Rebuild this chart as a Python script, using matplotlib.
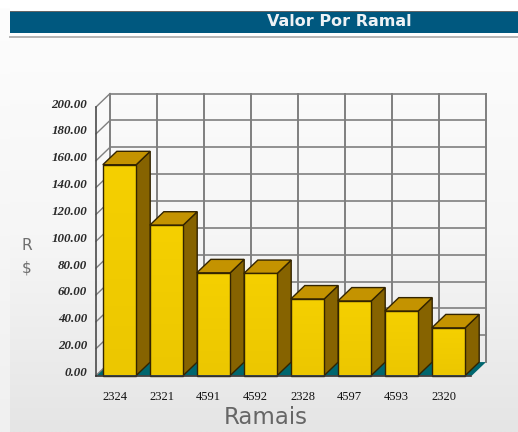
import numpy as np
import matplotlib
matplotlib.use("Agg")
import matplotlib.pyplot as plt
from matplotlib.colors import LinearSegmentedColormap
from matplotlib.patches import Polygon
from matplotlib.transforms import ScaledTranslation

categories = ["2324", "2321", "4591", "4592", "2328", "4597", "4593", "2320"]
values = [157, 112, 76.5, 76, 57, 55.5, 48, 35.5]
y_ticks = list(range(0, 201, 20))
y_tick_labels = [f"{v:.2f}" for v in y_ticks]
title = "Valor Por Ramal"
x_label = "Ramais"

W, H = 518, 432
fig = plt.figure(figsize=(W / 100, H / 100), dpi=100, facecolor="white")

# page background
bg = fig.add_axes([0, 0, 1, 1], zorder=0)
bg.axis("off")
page = LinearSegmentedColormap.from_list("page", ["#fcfcfc", "#f6f6f6", "#e5e5e5"])
bg.imshow(np.linspace(0, 1, 256).reshape(-1, 1), cmap=page, aspect="auto",
          extent=(10, W, H, 38), zorder=1)
edge = LinearSegmentedColormap.from_list("edge", ["#fdfdfd", "#f0f0f0"])
bg.imshow(np.linspace(0, 1, 256).reshape(-1, 1), cmap=edge, aspect="auto",
          extent=(0, 10, H, 8), zorder=1)
bg.set_xlim(0, W)
bg.set_ylim(H, 0)
bg.fill_between([10, W], 10.5, 32.5, color="#00587f", lw=0, zorder=2)
bg.plot([10, W], [10.5, 10.5], color="#666666", lw=0.7, zorder=3)
bg.plot([10, W], [37, 37], color="#b4b4b4", lw=1.4, zorder=3)
bg.text(339.5, 22, title, color="#eef2f5", fontsize=11.5, fontweight="bold",
        family="DejaVu Sans", ha="center", va="center", zorder=4)
bg.text(266, 417, x_label, color="#666666", fontsize=16.5, family="DejaVu Sans",
        ha="center", va="center", zorder=4)
bg.text(27, 246, "R", color="#6e6e6e", fontsize=11, family="DejaVu Sans",
        ha="center", va="center", zorder=4)
bg.text(27, 268, "$", color="#6e6e6e", fontsize=11, family="DejaVu Sans",
        ha="center", va="center", zorder=4)

# chart front plane
x0, x1, ytop, ybot = 96, 472, 107, 375.5
ax = fig.add_axes([x0 / W, 1 - ybot / H, (x1 - x0) / W, (ybot - ytop) / H], zorder=1)
ax.patch.set_alpha(0)
for s in ax.spines.values():
    s.set_visible(False)
n = len(categories)
dx, dy = 0.298, 10
bw = 0.71
grid = "#7f7f7f"

# floor
ax.add_patch(Polygon([(-0.5, 0), (n - 0.5, 0), (n - 0.5 + dx, dy), (-0.5 + dx, dy)],
                     facecolor="#00666e", edgecolor="none", clip_on=False, zorder=1))
# back wall grid and left wall
for v in y_ticks:
    if v > 0:
        ax.plot([-0.5 + dx, n - 0.5 + dx], [v + dy, v + dy], color=grid, lw=1.2, clip_on=False, zorder=2)
    ax.plot([-0.5, -0.5 + dx], [v, v + dy], color=grid, lw=1.0, clip_on=False, zorder=2)
for k in range(n + 1):
    ax.plot([k - 0.5 + dx] * 2, [dy, 200 + dy], color=grid, lw=1.4, clip_on=False, zorder=2)
ax.plot([-0.5, -0.5], [0, 200], color="#4a4a4a", lw=1.2, clip_on=False, zorder=3)
ax.plot([-0.5, n - 0.5 - 0.02], [0, 0], color="#333333", lw=1.2, clip_on=False, zorder=8)

# bars
yellow = LinearSegmentedColormap.from_list("y", ["#f5d000", "#ecc700"])
ec = "#332400"
for i, v in enumerate(values):
    z = 4 + i * 0.1
    l, r = i - bw / 2, i + bw / 2
    ax.add_patch(Polygon([(r, 0), (r + dx, dy), (r + dx, v + dy), (r, v)],
                         facecolor="#866300", edgecolor=ec, lw=1.0, clip_on=False, zorder=z))
    ax.add_patch(Polygon([(l, v), (r, v), (r + dx, v + dy), (l + dx, v + dy)],
                         facecolor="#c49300", edgecolor=ec, lw=1.0, clip_on=False, zorder=z))
    front = Polygon([(l, 0), (r, 0), (r, v), (l, v)], facecolor="none",
                    edgecolor=ec, lw=1.0, clip_on=False, zorder=z + 0.02)
    ax.add_patch(front)
    im = ax.imshow(np.linspace(0, 1, 64).reshape(-1, 1), cmap=yellow, aspect="auto",
                   extent=(l, r, 0, v), zorder=z + 0.01)
    im.set_clip_path(front)
ax.set_xlim(-0.5, n - 0.5)
ax.set_ylim(0, 200)

# ticks
ax.set_yticks(y_ticks, y_tick_labels)
ax.set_xticks(range(n), categories)
ax.tick_params(length=0, axis="y", pad=6.5, labelsize=9.4, labelcolor="#2a2a2a")
ax.tick_params(length=0, axis="x", pad=11, labelsize=9, labelcolor="#111111")
for t in ax.get_yticklabels():
    t.set_family("Liberation Serif")
    t.set_style("italic")
    t.set_fontweight("bold")
    t.set_transform(t.get_transform() + ScaledTranslation(0, 4 / 100, fig.dpi_scale_trans))
for t in ax.get_xticklabels():
    t.set_family("Liberation Serif")
    t.set_transform(t.get_transform() + ScaledTranslation(-5 / 100, 0, fig.dpi_scale_trans))

fig.savefig("out.png", dpi=100)
